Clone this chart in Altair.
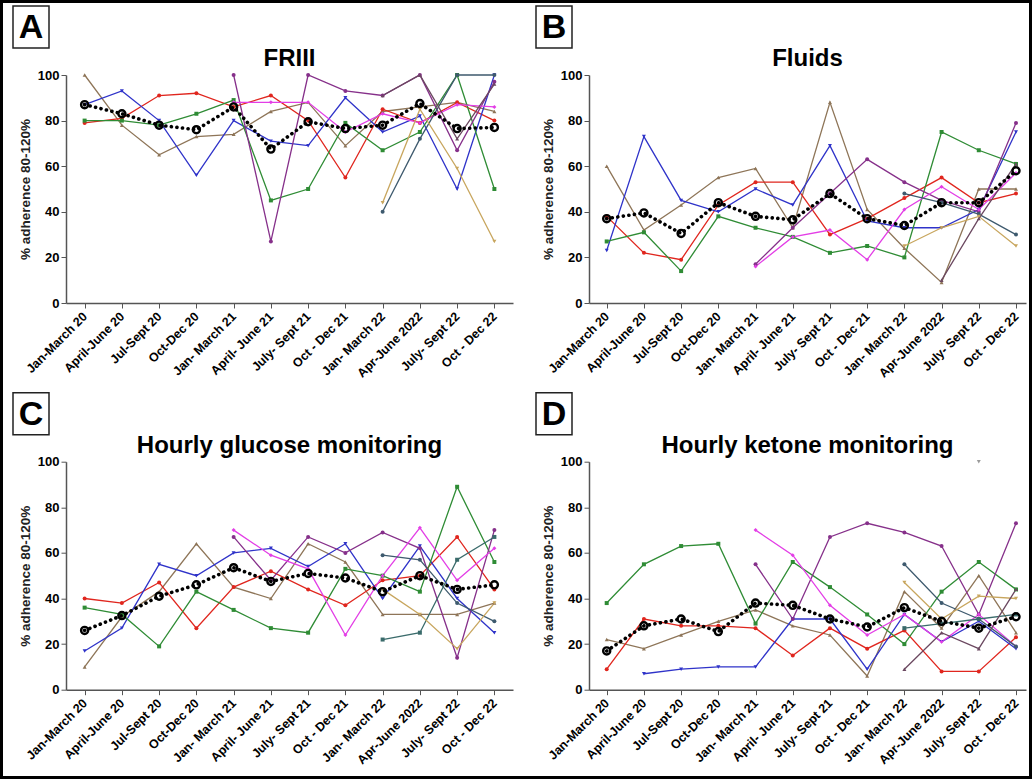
import altair as alt
import pandas as pd

CATS = ["Jan-March 20", "April-June 20", "Jul-Sept 20", "Oct-Dec 20",
        "Jan- March 21", "April- June 21", "July- Sept 21", "Oct - Dec 21",
        "Jan- March 22", "Apr-June 2022", "July- Sept 22", "Oct - Dec 22"]
N = None

# ---- Panel A: FRIII ----
A_red = [79, 81, 91, 92, 86, 91, 80, 55, 85, 79, 88, 80]
A_blue = [87, 93, 80, 56, 80, 71, 69, 90, 75, 82, 50, 100]
A_green = [80, 80, 78, 83, 89, 45, 50, 79, 67, 75, 100, 50]
A_brown = [100, 78, 65, 73, 74, 84, 88, 69, 84, 86, 88, 84]
A_purple = [N, N, N, N, 100, 27, 100, 93, 91, 100, 67, 97]
A_magenta = [N, N, N, N, 88, 88, 88, 75, 83, 79, 87, 86]
A_slate = [N, N, N, N, N, N, N, N, 40, 72, 100, 100]
A_gold = [N, N, N, N, N, N, N, N, 44, 85, 59, 27]
A_dark = [N, N, N, N, N, N, N, N, 91, 100, 72, 96]
A_mean = [87, 83, 78, 76, 86, 67.5, 79.5, 76.5, 78, 87.5, 76.5, 77]

# ---- Panel B: Fluids ----
B_red = [38, 22, 19, 43, 53, 53, 30, 37, 46, 55, 44, 48]
B_blue = [23, 73, 45, 40, 50, 43, 69, 36, 33, 33, 41, 75]
B_green = [27, 31, 14, 38, 33, 29, 22, 25, 20, 75, 67, 61]
B_brown = [60, 32, 43, 55, 59, 33, 88, 41, 24, 9, 50, 50]
B_purple = [N, N, N, N, 17, 33, 48, 63, 53, 45, 40, 79]
B_magenta = [N, N, N, N, 16, 29, 32, 19, 41, 51, 41, 57]
B_slate = [N, N, N, N, N, N, N, N, 48, 44, 39, 30]
B_gold = [N, N, N, N, N, N, N, N, 25, 33, 38, 25]
B_dark = [N, N, N, N, N, N, N, N, N, 10, 37, 61]
B_mean = [37, 39.5, 30.5, 44, 38, 36.5, 48, 37, 34, 44, 44, 58]

# ---- Panel C: Hourly glucose monitoring ----
C_red = [40, 38, 47, 27, 45, 52, 44, 37, 48, 50, 67, 44]
C_green = [36, 33, 19, 43, 35, 27, 25, 53, 50, 43, 89, 56]
C_blue = [17, 27, 55, 50, 60, 62, 54, 64, 40, 63, 40, 25]
C_brown = [10, 32, 43, 64, 45, 40, 64, 56, 33, 33, 33, 38]
C_purple = [N, N, N, N, 67, 48, 67, 60, 69, 62, 14, 70]
C_magenta = [N, N, N, N, 70, 59, 53, 24, 50, 71, 48, 62]
C_slate = [N, N, N, N, N, N, N, N, 59, 57, 38, 30]
C_teal = [N, N, N, N, N, N, N, N, 22, 25, 57, 67]
C_gold = [N, N, N, N, N, N, N, N, 44, 33, 18, 38]
C_mean = [26, 32.5, 41, 46, 53.5, 47.5, 51, 49, 43, 50, 44, 46]

# ---- Panel D: Hourly ketone monitoring ----
D_red = [9, 31, 28, 28, 27, 15, 27, 18, 26, 8, 8, 23]
D_green = [38, 55, 63, 64, 29, 56, 45, 33, 20, 43, 56, 44]
D_blue = [N, 7, 9, 10, 10, 31, 31, 9, 33, 21, 30, 18]
D_brown = [22, 18, 24, 30, 35, 28, 24, 6, 43, 27, 50, 25]
D_purple = [N, N, N, N, 55, 31, 67, 73, 69, 63, 33, 73]
D_magenta = [N, N, N, N, 70, 59, 37, 24, 33, 21, 33, 19]
D_slate = [N, N, N, N, N, N, N, N, 55, 38, 31, 19]
D_teal = [N, N, N, N, N, N, N, N, 27, 29, 31, 33]
D_gold = [N, N, N, N, N, N, N, N, 47, 31, 41, 40]
D_dark = [N, N, N, N, N, N, N, N, 9, 25, 18, 44]
D_gray = [N, N, N, N, N, N, N, N, N, N, 100, N]
D_mean = [17, 28, 31, 25.5, 38, 37, 31, 27.5, 36, 30, 27, 32]

COLORS = {"red": "#e0261e", "blue": "#2f33c9", "green": "#2f8c35", "brown": "#8e7558",
          "purple": "#86308a", "magenta": "#e33ee6", "slate": "#3e5a6e", "teal": "#3a6b6b",
          "gold": "#c8a65e", "dark": "#6b4860", "gray": "#9a9a9a"}
SHAPES = {"red": "circle", "blue": "triangle-down", "green": "square", "brown": "triangle-up",
          "purple": "circle", "magenta": "diamond", "slate": "circle", "teal": "square",
          "gold": "triangle-down", "dark": "triangle-up", "gray": "triangle-down"}
ALL_NAMES = list(COLORS.keys())

FONT = "Liberation Sans"
LABEL_EXPR = "[" + ",".join("'%s'" % c for c in CATS) + "][datum.value]"
H = 228

COLOR = alt.Color("series:N", legend=None,
                  scale=alt.Scale(domain=ALL_NAMES, range=[COLORS[n] for n in ALL_NAMES]))
SHAPE = alt.Shape("series:N", legend=None,
                  scale=alt.Scale(domain=ALL_NAMES, range=[SHAPES[n] for n in ALL_NAMES]))


def long_df(series):
    rows = []
    for name, vals in series.items():
        for i, v in enumerate(vals):
            if v is not None:
                rows.append({"series": name, "idx": i, "value": v})
    return pd.DataFrame(rows)


def panel(series, mean, title, letter, width, xdom, frame=False):
    df = long_df(series)
    mdf = pd.DataFrame({"idx": list(range(len(CATS))), "value": mean})
    x = alt.X("idx:Q", scale=alt.Scale(domain=xdom, nice=False, zero=False),
              axis=alt.Axis(values=list(range(12)), labelExpr=LABEL_EXPR, labelAngle=-45,
                            labelAlign="right", labelBaseline="middle", labelPadding=6,
                            title=None, grid=False, tickSize=5, labelFontSize=12.5,
                            labelFont=FONT, labelFontWeight="bold", labelColor="black",
                            domainColor="#555", tickColor="#555", domainWidth=1.5,
                            labelOverlap=False))
    y = alt.Y("value:Q", scale=alt.Scale(domain=[0, 100], nice=False),
              axis=alt.Axis(values=[0, 20, 40, 60, 80, 100], title="% adherence 80-120%",
                            grid=False, tickSize=5, labelFontSize=13, labelFont=FONT,
                            labelFontWeight="bold", labelColor="black", labelPadding=2,
                            titleFont=FONT, titleFontSize=13.5, titleFontWeight="bold",
                            titleColor="#222", titlePadding=5,
                            domainColor="#555", tickColor="#555", domainWidth=1.5))
    base = alt.Chart(df)
    lines = base.mark_line(strokeWidth=1.3).encode(x=x, y=y, color=COLOR, detail="series:N",
                                                   order="idx:Q")
    pts = base.mark_point(filled=True, size=16, opacity=1).encode(x=x, y=y, color=COLOR,
                                                                  shape=SHAPE)
    mline = alt.Chart(mdf).mark_line(color="black", strokeWidth=3.6, strokeDash=[0.1, 5.5],
                                     strokeCap="round").encode(x=x, y=y)
    mpts = alt.Chart(mdf).mark_point(shape="circle", size=50, stroke="black", strokeWidth=2.4,
                                     filled=False, opacity=1).encode(x=x, y=y)
    one = pd.DataFrame({"k": [0]})
    box = alt.Chart(one).mark_rect(fill="white", stroke="#222", strokeWidth=1.5).encode(
        x=alt.value(-53), x2=alt.value(-17), y=alt.value(-69), y2=alt.value(-27))
    txt = alt.Chart(one).mark_text(font=FONT, fontSize=34, fontWeight="bold", color="black",
                                   align="center", baseline="middle").encode(
        x=alt.value(-35), y=alt.value(-47), text=alt.value(letter))
    ttl = alt.Chart(one).mark_text(font=FONT, fontSize=24, fontWeight="bold", color="black",
                                   align="center", baseline="alphabetic").encode(
        x=alt.value(width / 2), y=alt.value(-9), text=alt.value(title))
    layers = [lines, pts, mline, mpts, box, txt, ttl]
    if frame:
        fr = alt.Chart(one).mark_rect(fill=None, stroke="black", strokeWidth=3).encode(
            x=alt.value(-64.5), x2=alt.value(964.5), y=alt.value(-73.5), y2=alt.value(702.5))
        layers.append(fr)
    return alt.layer(*layers).properties(width=width, height=H)


WA, WB = 447, 437
DOM_A = [-0.5, 11.5]
DOM_B = [-17.7 / 37.2, 11 + 10 / 37.2]

pA = panel({"brown": A_brown, "red": A_red, "blue": A_blue, "green": A_green,
            "purple": A_purple, "magenta": A_magenta, "slate": A_slate, "gold": A_gold,
            "dark": A_dark}, A_mean, "FRIII", "A", WA, DOM_A, frame=True)
pB = panel({"brown": B_brown, "red": B_red, "blue": B_blue, "green": B_green,
            "purple": B_purple, "magenta": B_magenta, "slate": B_slate, "gold": B_gold,
            "dark": B_dark}, B_mean, "Fluids", "B", WB, DOM_B)
pC = panel({"brown": C_brown, "red": C_red, "blue": C_blue, "green": C_green,
            "purple": C_purple, "magenta": C_magenta, "slate": C_slate, "teal": C_teal,
            "gold": C_gold}, C_mean, "Hourly glucose monitoring", "C", WA, DOM_A)
pD = panel({"brown": D_brown, "red": D_red, "blue": D_blue, "green": D_green,
            "purple": D_purple, "magenta": D_magenta, "slate": D_slate, "teal": D_teal,
            "gold": D_gold, "dark": D_dark, "gray": D_gray}, D_mean,
           "Hourly ketone monitoring", "D", WB, DOM_B)

chart = alt.concat(pA, pB, pC, pD, columns=2, bounds="flush",
                   spacing={"row": 158.7, "column": 76}).properties(
    padding=0, background="white").configure_view(stroke=None)

chart.save("out.html", embed_options={"renderer": "svg", "actions": False})
